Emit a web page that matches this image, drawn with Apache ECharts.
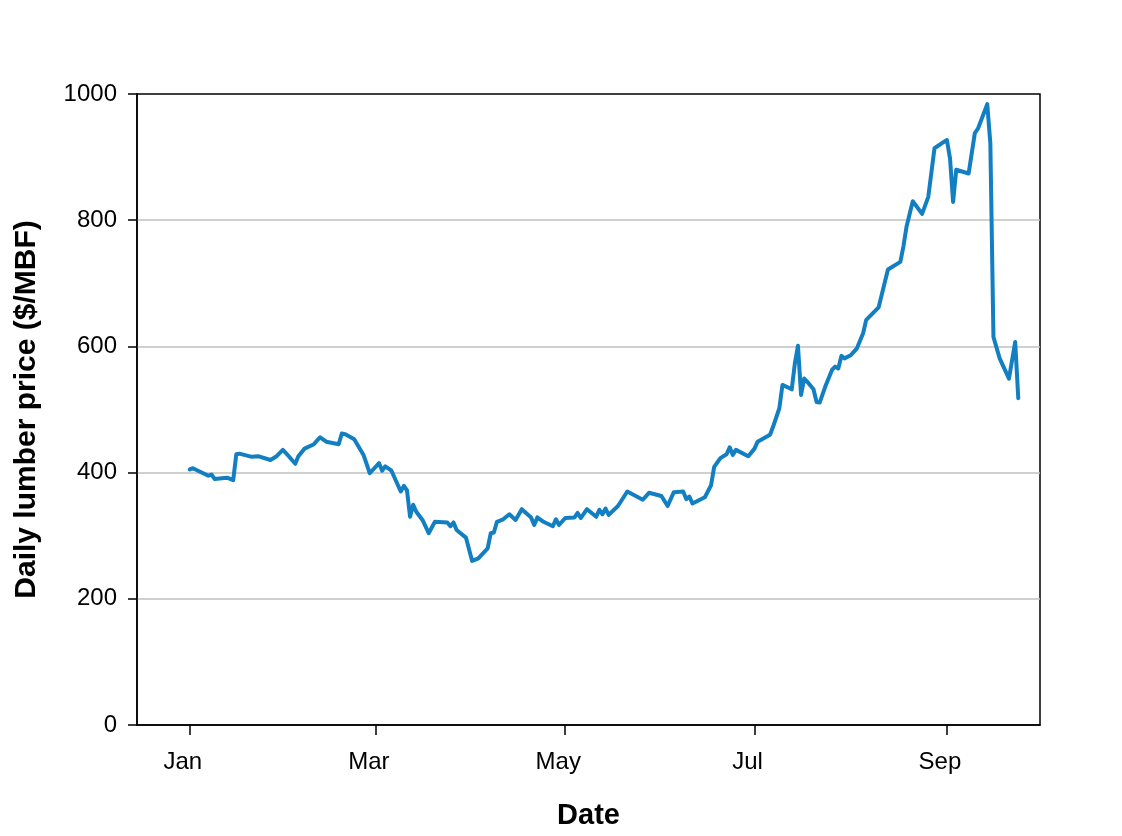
<!DOCTYPE html>
<html>
<head>
<meta charset="utf-8">
<title>Daily lumber price</title>
<script src="https://cdn.jsdelivr.net/npm/echarts@6/dist/echarts.min.js"></script>
<style>
  html, body { margin: 0; padding: 0; background: #fff; }
  #chart { width: 1122px; height: 836px; }
</style>
</head>
<body>
<div id="chart"></div>
<script>
// days since 1 Jan 2020
const dayOfYear = [
  0, 1, 6, 7, 8, 12, 14, 15, 16, 20, 22, 26, 28, 30, 31, 34, 35, 37, 40, 42,
  44, 48, 49, 50, 53, 56, 58, 61, 62, 63, 65, 68, 69, 70, 71, 72, 73, 75, 77, 79,
  83, 84, 85, 86, 89, 91, 93, 96, 97, 98, 99, 101, 103, 105, 107, 110, 111, 112, 114, 117,
  118, 119, 121, 124, 125, 126, 128, 131, 132, 133, 134, 135, 138, 141, 146, 148, 152, 154, 156, 159,
  160, 161, 162, 166, 168, 169, 171, 173, 174, 175, 176, 180, 182, 183, 187, 188, 190, 191, 194, 195,
  196, 197, 198, 199, 201, 202, 203, 205, 207, 208, 209, 210, 211, 213, 215, 217, 218, 222, 225, 229,
  230, 231, 233, 236, 238, 240, 243, 244, 245, 246, 247, 251, 253, 254, 257, 258, 259, 261, 264, 266,
  267
];

// $/MBF
const price = [
  405, 407, 395, 397, 390, 392, 388, 429, 430, 425, 426, 420, 426, 436, 431, 414, 426, 438, 445, 456,
  449, 445, 462, 461, 453, 428, 399, 415, 403, 410, 403, 370, 379, 372, 330, 349, 338, 325, 304, 322,
  321, 315, 321, 309, 297, 260, 264, 280, 304, 305, 322, 326, 334, 325, 342, 329, 317, 329, 322, 315,
  326, 317, 328, 329, 336, 328, 342, 330, 341, 334, 343, 333, 347, 370, 357, 368, 363, 347, 369, 370,
  358, 362, 351, 361, 380, 409, 423, 429, 440, 428, 436, 426, 438, 449, 460, 473, 502, 539, 532, 573,
  601, 523, 549, 544, 532, 512, 511, 539, 563, 568, 565, 585, 581, 586, 597, 621, 642, 662, 722, 734,
  759, 790, 830, 810, 837, 914, 924, 927, 898, 829, 880, 874, 938, 945, 984, 922, 615, 581, 549, 607,
  518
];

const monthStartDays = [0, 60, 121, 182, 244];
const monthLabels = ['Jan', 'Mar', 'May', 'Jul', 'Sep'];

const FONT = '"Liberation Sans", Arial, sans-serif';

const chart = echarts.init( document.getElementById( 'chart' ) );

chart.setOption( {
  animation: false,
  backgroundColor: '#fff',
  textStyle: { fontFamily: FONT },
  grid: {
    left: 137,
    right: 82,
    top: 94,
    bottom: 111,
    show: true,
    borderColor: '#000',
    borderWidth: 1.5,
    outerBoundsMode: 'none'
  },
  xAxis: {
    type: 'value',
    min: -17,
    max: 274,
    name: 'Date',
    nameLocation: 'middle',
    nameGap: 76,
    nameTextStyle: { fontFamily: FONT, fontSize: 29, fontWeight: 'bold', color: '#000' },
    axisLine: { show: true, onZero: false, lineStyle: { color: '#000', width: 1.5 } },
    axisTick: { show: true, length: 10, customValues: monthStartDays, lineStyle: { color: '#000', width: 1.5 } },
    axisLabel: {
      customValues: monthStartDays,
      formatter: ( v ) => monthLabels[monthStartDays.indexOf( v )] || '',
      fontFamily: FONT,
      fontSize: 24,
      color: '#000',
      margin: 25,
      padding: [0, 14, 0, 0]
    },
    splitLine: { show: false }
  },
  yAxis: {
    type: 'value',
    min: 0,
    max: 1000,
    interval: 200,
    name: 'Daily lumber price ($/MBF)',
    nameLocation: 'middle',
    nameGap: 95,
    nameRotate: 90,
    nameTextStyle: { fontFamily: FONT, fontSize: 30, fontWeight: 'bold', color: '#000' },
    axisLine: { show: true, onZero: false, lineStyle: { color: '#000', width: 1.5 } },
    axisTick: { show: true, length: 9, lineStyle: { color: '#000', width: 1.5 } },
    axisLabel: {
      formatter: ( v ) => String( v ),
      fontFamily: FONT,
      fontSize: 24,
      color: '#000',
      margin: 20,
      padding: [4, 0, 0, 0]
    },
    splitLine: {
      show: true,
      showMinLine: false,
      showMaxLine: false,
      lineStyle: { color: '#c0c0c0', width: 1.5 }
    }
  },
  series: [ {
    type: 'line',
    data: dayOfYear.map( ( d, i ) => [d, price[i]] ),
    showSymbol: false,
    smooth: false,
    lineStyle: { color: '#127fc2', width: 4, join: 'round', cap: 'round' },
    itemStyle: { color: '#127fc2' }
  } ]
} );
</script>
</body>
</html>
